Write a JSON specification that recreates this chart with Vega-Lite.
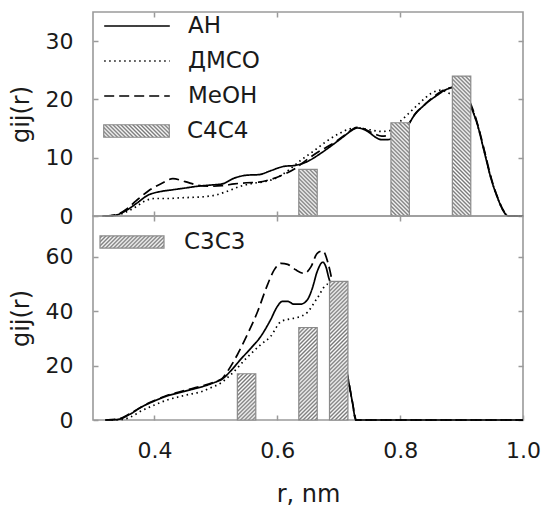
{
"$schema": "https://vega.github.io/schema/vega-lite/v6.json",
"padding": {"left": 8, "top": 10, "right": 5, "bottom": 2},
"params": [{"name": "hs", "value": [{"offset":0,"color":"#fff"},{"offset":0.01,"color":"#777"},{"offset":0.02,"color":"#fff"},{"offset":0.03,"color":"#777"},{"offset":0.04,"color":"#fff"},{"offset":0.05,"color":"#777"},{"offset":0.06,"color":"#fff"},{"offset":0.07,"color":"#777"},{"offset":0.08,"color":"#fff"},{"offset":0.09,"color":"#777"},{"offset":0.1,"color":"#fff"},{"offset":0.11,"color":"#777"},{"offset":0.12,"color":"#fff"},{"offset":0.13,"color":"#777"},{"offset":0.14,"color":"#fff"},{"offset":0.15,"color":"#777"},{"offset":0.16,"color":"#fff"},{"offset":0.17,"color":"#777"},{"offset":0.18,"color":"#fff"},{"offset":0.19,"color":"#777"},{"offset":0.2,"color":"#fff"},{"offset":0.21,"color":"#777"},{"offset":0.22,"color":"#fff"},{"offset":0.23,"color":"#777"},{"offset":0.24,"color":"#fff"},{"offset":0.25,"color":"#777"},{"offset":0.26,"color":"#fff"},{"offset":0.27,"color":"#777"},{"offset":0.28,"color":"#fff"},{"offset":0.29,"color":"#777"},{"offset":0.3,"color":"#fff"},{"offset":0.31,"color":"#777"},{"offset":0.32,"color":"#fff"},{"offset":0.33,"color":"#777"},{"offset":0.34,"color":"#fff"},{"offset":0.35,"color":"#777"},{"offset":0.36,"color":"#fff"},{"offset":0.37,"color":"#777"},{"offset":0.38,"color":"#fff"},{"offset":0.39,"color":"#777"},{"offset":0.4,"color":"#fff"},{"offset":0.41,"color":"#777"},{"offset":0.42,"color":"#fff"},{"offset":0.43,"color":"#777"},{"offset":0.44,"color":"#fff"},{"offset":0.45,"color":"#777"},{"offset":0.46,"color":"#fff"},{"offset":0.47,"color":"#777"},{"offset":0.48,"color":"#fff"},{"offset":0.49,"color":"#777"},{"offset":0.5,"color":"#fff"},{"offset":0.51,"color":"#777"},{"offset":0.52,"color":"#fff"},{"offset":0.53,"color":"#777"},{"offset":0.54,"color":"#fff"},{"offset":0.55,"color":"#777"},{"offset":0.56,"color":"#fff"},{"offset":0.57,"color":"#777"},{"offset":0.58,"color":"#fff"},{"offset":0.59,"color":"#777"},{"offset":0.6,"color":"#fff"},{"offset":0.61,"color":"#777"},{"offset":0.62,"color":"#fff"},{"offset":0.63,"color":"#777"},{"offset":0.64,"color":"#fff"},{"offset":0.65,"color":"#777"},{"offset":0.66,"color":"#fff"},{"offset":0.67,"color":"#777"},{"offset":0.68,"color":"#fff"},{"offset":0.69,"color":"#777"},{"offset":0.7,"color":"#fff"},{"offset":0.71,"color":"#777"},{"offset":0.72,"color":"#fff"},{"offset":0.73,"color":"#777"},{"offset":0.74,"color":"#fff"},{"offset":0.75,"color":"#777"},{"offset":0.76,"color":"#fff"},{"offset":0.77,"color":"#777"},{"offset":0.78,"color":"#fff"},{"offset":0.79,"color":"#777"},{"offset":0.8,"color":"#fff"},{"offset":0.81,"color":"#777"},{"offset":0.82,"color":"#fff"},{"offset":0.83,"color":"#777"},{"offset":0.84,"color":"#fff"},{"offset":0.85,"color":"#777"},{"offset":0.86,"color":"#fff"},{"offset":0.87,"color":"#777"},{"offset":0.88,"color":"#fff"},{"offset":0.89,"color":"#777"},{"offset":0.9,"color":"#fff"},{"offset":0.91,"color":"#777"},{"offset":0.92,"color":"#fff"},{"offset":0.93,"color":"#777"},{"offset":0.94,"color":"#fff"},{"offset":0.95,"color":"#777"},{"offset":0.96,"color":"#fff"},{"offset":0.97,"color":"#777"},{"offset":0.98,"color":"#fff"},{"offset":0.99,"color":"#777"},{"offset":1,"color":"#fff"}]}],
"datasets": {
"c4": [
{"r":0.315,"g":0,"s":"АН"},{"r":0.335,"g":0.1,"s":"АН"},{"r":0.35,"g":0.7,"s":"АН"},{"r":0.37,"g":2.1,"s":"АН"},{"r":0.39,"g":3.6,"s":"АН"},{"r":0.41,"g":4.2,"s":"АН"},{"r":0.43,"g":4.5,"s":"АН"},{"r":0.45,"g":4.8,"s":"АН"},{"r":0.47,"g":5.1,"s":"АН"},{"r":0.49,"g":5.3,"s":"АН"},{"r":0.51,"g":5.5,"s":"АН"},{"r":0.53,"g":6.5,"s":"АН"},{"r":0.55,"g":7.0,"s":"АН"},{"r":0.57,"g":7.1,"s":"АН"},{"r":0.59,"g":7.8,"s":"АН"},{"r":0.61,"g":8.5,"s":"АН"},{"r":0.63,"g":8.7,"s":"АН"},{"r":0.65,"g":9.4,"s":"АН"},{"r":0.67,"g":10.7,"s":"АН"},{"r":0.69,"g":12.2,"s":"АН"},{"r":0.71,"g":13.8,"s":"АН"},{"r":0.72,"g":14.6,"s":"АН"},{"r":0.73,"g":15.1,"s":"АН"},{"r":0.74,"g":14.9,"s":"АН"},{"r":0.75,"g":14.3,"s":"АН"},{"r":0.76,"g":13.5,"s":"АН"},{"r":0.77,"g":13.1,"s":"АН"},{"r":0.78,"g":13.1,"s":"АН"},{"r":0.79,"g":13.6,"s":"АН"},{"r":0.8,"g":14.6,"s":"АН"},{"r":0.815,"g":15.9,"s":"АН"},{"r":0.82,"g":16.8,"s":"АН"},{"r":0.84,"g":19.1,"s":"АН"},{"r":0.86,"g":20.7,"s":"АН"},{"r":0.875,"g":21.7,"s":"АН"},{"r":0.89,"g":22.1,"s":"АН"},{"r":0.905,"g":21.2,"s":"АН"},{"r":0.915,"g":18.8,"s":"АН"},{"r":0.926,"g":15.6,"s":"АН"},{"r":0.937,"g":11.0,"s":"АН"},{"r":0.948,"g":6.4,"s":"АН"},{"r":0.959,"g":3.0,"s":"АН"},{"r":0.969,"g":0.7,"s":"АН"},{"r":0.976,"g":0,"s":"АН"},{"r":1.0,"g":0,"s":"АН"},
{"r":0.33,"g":0,"s":"ДМСО"},{"r":0.35,"g":0.5,"s":"ДМСО"},{"r":0.37,"g":1.6,"s":"ДМСО"},{"r":0.385,"g":2.6,"s":"ДМСО"},{"r":0.4,"g":3.0,"s":"ДМСО"},{"r":0.42,"g":3.0,"s":"ДМСО"},{"r":0.44,"g":3.1,"s":"ДМСО"},{"r":0.46,"g":3.2,"s":"ДМСО"},{"r":0.48,"g":3.3,"s":"ДМСО"},{"r":0.5,"g":3.6,"s":"ДМСО"},{"r":0.52,"g":4.3,"s":"ДМСО"},{"r":0.54,"g":5.1,"s":"ДМСО"},{"r":0.56,"g":5.6,"s":"ДМСО"},{"r":0.58,"g":5.9,"s":"ДМСО"},{"r":0.6,"g":6.6,"s":"ДМСО"},{"r":0.62,"g":8.0,"s":"ДМСО"},{"r":0.64,"g":9.7,"s":"ДМСО"},{"r":0.66,"g":11.2,"s":"ДМСО"},{"r":0.68,"g":12.8,"s":"ДМСО"},{"r":0.7,"g":14.1,"s":"ДМСО"},{"r":0.72,"g":15.0,"s":"ДМСО"},{"r":0.73,"g":15.1,"s":"ДМСО"},{"r":0.75,"g":14.8,"s":"ДМСО"},{"r":0.77,"g":14.5,"s":"ДМСО"},{"r":0.785,"g":14.7,"s":"ДМСО"},{"r":0.8,"g":16.2,"s":"ДМСО"},{"r":0.817,"g":17.9,"s":"ДМСО"},{"r":0.834,"g":19.6,"s":"ДМСО"},{"r":0.85,"g":21.0,"s":"ДМСО"},{"r":0.866,"g":21.6,"s":"ДМСО"},{"r":0.883,"g":20.9,"s":"ДМСО"},{"r":0.9,"g":20.5,"s":"ДМСО"},{"r":0.915,"g":18.9,"s":"ДМСО"},{"r":0.926,"g":15.6,"s":"ДМСО"},{"r":0.937,"g":11.1,"s":"ДМСО"},{"r":0.948,"g":6.5,"s":"ДМСО"},{"r":0.959,"g":3.0,"s":"ДМСО"},{"r":0.969,"g":0.7,"s":"ДМСО"},{"r":0.976,"g":0,"s":"ДМСО"},{"r":1.0,"g":0,"s":"ДМСО"},
{"r":0.32,"g":0,"s":"МеОН"},{"r":0.34,"g":0.3,"s":"МеОН"},{"r":0.355,"g":1.2,"s":"МеОН"},{"r":0.37,"g":2.6,"s":"МеОН"},{"r":0.39,"g":4.3,"s":"МеОН"},{"r":0.41,"g":5.5,"s":"МеОН"},{"r":0.43,"g":6.4,"s":"МеОН"},{"r":0.45,"g":5.9,"s":"МеОН"},{"r":0.47,"g":5.3,"s":"МеОН"},{"r":0.49,"g":5.1,"s":"МеОН"},{"r":0.51,"g":5.2,"s":"МеОН"},{"r":0.53,"g":5.5,"s":"МеОН"},{"r":0.55,"g":5.7,"s":"МеОН"},{"r":0.57,"g":5.8,"s":"МеОН"},{"r":0.59,"g":6.3,"s":"МеОН"},{"r":0.61,"g":7.1,"s":"МеОН"},{"r":0.63,"g":8.2,"s":"МеОН"},{"r":0.65,"g":9.8,"s":"МеОН"},{"r":0.67,"g":11.2,"s":"МеОН"},{"r":0.69,"g":12.4,"s":"МеОН"},{"r":0.71,"g":13.9,"s":"МеОН"},{"r":0.73,"g":15.2,"s":"МеОН"},{"r":0.74,"g":15.0,"s":"МеОН"},{"r":0.75,"g":14.5,"s":"МеОН"},{"r":0.76,"g":14.0,"s":"МеОН"},{"r":0.77,"g":13.7,"s":"МеОН"},{"r":0.78,"g":13.8,"s":"МеОН"},{"r":0.79,"g":14.4,"s":"МеОН"},{"r":0.8,"g":15.2,"s":"МеОН"},{"r":0.815,"g":16.0,"s":"МеОН"},{"r":0.82,"g":16.9,"s":"МеОН"},{"r":0.84,"g":19.1,"s":"МеОН"},{"r":0.86,"g":20.9,"s":"МеОН"},{"r":0.875,"g":21.8,"s":"МеОН"},{"r":0.89,"g":22.1,"s":"МеОН"},{"r":0.905,"g":21.3,"s":"МеОН"},{"r":0.915,"g":19.2,"s":"МеОН"},{"r":0.926,"g":15.8,"s":"МеОН"},{"r":0.937,"g":11.3,"s":"МеОН"},{"r":0.948,"g":6.6,"s":"МеОН"},{"r":0.959,"g":3.1,"s":"МеОН"},{"r":0.969,"g":0.8,"s":"МеОН"},{"r":0.977,"g":0,"s":"МеОН"},{"r":1.0,"g":0,"s":"МеОН"}
],
"c3": [
{"r":0.32,"g":0,"s":"АН"},{"r":0.34,"g":0.2,"s":"АН"},{"r":0.36,"g":2.1,"s":"АН"},{"r":0.38,"g":4.9,"s":"АН"},{"r":0.4,"g":7.0,"s":"АН"},{"r":0.42,"g":8.8,"s":"АН"},{"r":0.44,"g":10.0,"s":"АН"},{"r":0.46,"g":11.2,"s":"АН"},{"r":0.48,"g":12.4,"s":"АН"},{"r":0.5,"g":14.0,"s":"АН"},{"r":0.51,"g":15.0,"s":"АН"},{"r":0.524,"g":18.0,"s":"АН"},{"r":0.54,"g":22.2,"s":"АН"},{"r":0.557,"g":26.4,"s":"АН"},{"r":0.573,"g":30.7,"s":"АН"},{"r":0.589,"g":36.8,"s":"АН"},{"r":0.6,"g":41.7,"s":"АН"},{"r":0.608,"g":43.6,"s":"АН"},{"r":0.617,"g":43.6,"s":"АН"},{"r":0.627,"g":42.6,"s":"АН"},{"r":0.638,"g":42.6,"s":"АН"},{"r":0.649,"g":44.2,"s":"АН"},{"r":0.657,"g":48.4,"s":"АН"},{"r":0.665,"g":54.6,"s":"АН"},{"r":0.674,"g":58.0,"s":"АН"},{"r":0.679,"g":56.4,"s":"АН"},{"r":0.684,"g":52.1,"s":"АН"},{"r":0.69,"g":48,"s":"АН"},{"r":0.7,"g":32,"s":"АН"},{"r":0.716,"g":14.2,"s":"АН"},{"r":0.722,"g":6.9,"s":"АН"},{"r":0.728,"g":0,"s":"АН"},{"r":1.0,"g":0,"s":"АН"},
{"r":0.33,"g":0,"s":"ДМСО"},{"r":0.35,"g":0.3,"s":"ДМСО"},{"r":0.36,"g":1.0,"s":"ДМСО"},{"r":0.38,"g":3.5,"s":"ДМСО"},{"r":0.4,"g":5.5,"s":"ДМСО"},{"r":0.42,"g":7.3,"s":"ДМСО"},{"r":0.443,"g":8.7,"s":"ДМСО"},{"r":0.46,"g":9.6,"s":"ДМСО"},{"r":0.475,"g":10.3,"s":"ДМСО"},{"r":0.49,"g":11.7,"s":"ДМСО"},{"r":0.508,"g":13.6,"s":"ДМСО"},{"r":0.525,"g":16.8,"s":"ДМСО"},{"r":0.55,"g":22.8,"s":"ДМСО"},{"r":0.573,"g":27.7,"s":"ДМСО"},{"r":0.589,"g":30.7,"s":"ДМСО"},{"r":0.606,"g":36.2,"s":"ДМСО"},{"r":0.622,"g":37.2,"s":"ДМСО"},{"r":0.633,"g":37.7,"s":"ДМСО"},{"r":0.649,"g":39.6,"s":"ДМСО"},{"r":0.665,"g":44.8,"s":"ДМСО"},{"r":0.682,"g":49.9,"s":"ДМСО"},{"r":0.69,"g":46,"s":"ДМСО"},{"r":0.7,"g":32,"s":"ДМСО"},{"r":0.716,"g":13.8,"s":"ДМСО"},{"r":0.722,"g":6.8,"s":"ДМСО"},{"r":0.728,"g":0,"s":"ДМСО"},{"r":1.0,"g":0,"s":"ДМСО"},
{"r":0.32,"g":0,"s":"МеОН"},{"r":0.34,"g":0.3,"s":"МеОН"},{"r":0.36,"g":2.3,"s":"МеОН"},{"r":0.38,"g":5.0,"s":"МеОН"},{"r":0.4,"g":7.2,"s":"МеОН"},{"r":0.42,"g":9.0,"s":"МеОН"},{"r":0.44,"g":10.3,"s":"МеОН"},{"r":0.46,"g":11.5,"s":"МеОН"},{"r":0.48,"g":12.7,"s":"МеОН"},{"r":0.5,"g":14.2,"s":"МеОН"},{"r":0.51,"g":15.2,"s":"МеОН"},{"r":0.519,"g":17.9,"s":"МеОН"},{"r":0.535,"g":24.0,"s":"МеОН"},{"r":0.551,"g":31.3,"s":"МеОН"},{"r":0.568,"g":39.9,"s":"МеОН"},{"r":0.584,"g":49.7,"s":"МеОН"},{"r":0.595,"g":55.2,"s":"МеОН"},{"r":0.606,"g":57.6,"s":"МеОН"},{"r":0.617,"g":57.2,"s":"МеОН"},{"r":0.63,"g":55.2,"s":"МеОН"},{"r":0.644,"g":53.9,"s":"МеОН"},{"r":0.655,"g":56.4,"s":"МеОН"},{"r":0.665,"g":61.3,"s":"МеОН"},{"r":0.674,"g":62.2,"s":"МеОН"},{"r":0.682,"g":58.2,"s":"МеОН"},{"r":0.69,"g":50,"s":"МеОН"},{"r":0.7,"g":33,"s":"МеОН"},{"r":0.716,"g":14.5,"s":"МеОН"},{"r":0.722,"g":7,"s":"МеОН"},{"r":0.729,"g":0,"s":"МеОН"},{"r":1.0,"g":0,"s":"МеОН"}
],
"b4": [{"r0":0.635,"r1":0.665,"g":8,"series":"C4C4"},{"r0":0.785,"r1":0.815,"g":16,"series":"C4C4"},{"r0":0.885,"r1":0.915,"g":24,"series":"C4C4"}],
"b3": [{"r0":0.535,"r1":0.565,"g":17,"series":"C3C3"},{"r0":0.635,"r1":0.665,"g":34,"series":"C3C3"},{"r0":0.685,"r1":0.715,"g":51,"series":"C3C3"}]
},
"vconcat": [
{
"width": 430, "height": 204,
"layer": [
{
"data": {"name": "c4"},
"mark": {"type": "line", "color": "black", "strokeWidth": 1.7, "interpolate": "monotone"},
"encoding": {
"x": {"field": "r", "type": "quantitative", "scale": {"domain": [0.3, 1.0], "nice": false, "zero": false}, "axis": {"orient": "bottom", "values": [0.4, 0.6, 0.8], "labels": false, "title": null}},
"y": {"field": "g", "type": "quantitative", "scale": {"domain": [0, 35], "nice": false}, "axis": {"orient": "left", "values": [0, 10, 20, 30], "title": "gij(r)", "titlePadding": 12}},
"strokeDash": {"field": "s", "type": "nominal", "scale": {"domain": ["АН", "ДМСО", "МеОН"], "range": [[1, 0], [1.5, 3.5], [10, 5]]}, "legend": {"title": null, "orient": "none", "legendX": 10, "legendY": 1, "symbolType": "stroke", "symbolSize": 4303, "symbolStrokeWidth": 1.7, "symbolStrokeColor": "black", "labelOffset": 17, "rowPadding": 9, "clipHeight": 26}}
}
},
{
"data": {"name": "b4"},
"mark": {"type": "rect", "strokeWidth": 1.2, "fill": {"expr": "datum.g == 8 ? {gradient:'linear',x1:0,y1:1,x2:1.452,y2:-2.677,stops:hs} : datum.g == 16 ? {gradient:'linear',x1:0,y1:1,x2:0.405,y2:-1.049,stops:hs} : datum.g == 24 ? {gradient:'linear',x1:0,y1:1,x2:0.184,y2:-0.395,stops:hs} : {gradient:'linear',x1:0,y1:1,x2:2.913,y2:0.445,stops:hs}"}},
"encoding": {
"x": {"field": "r0", "type": "quantitative", "axis": {"orient": "top", "values": [0.4, 0.6, 0.8], "labels": false, "title": null}},
"x2": {"field": "r1"},
"y": {"field": "g", "type": "quantitative", "axis": {"orient": "right", "values": [0, 10, 20, 30], "labels": false, "title": null}},
"y2": {"datum": 0},
"stroke": {"field": "series", "type": "nominal", "scale": {"range": ["#8a8a8a"]}, "legend": {"title": null, "orient": "none", "legendX": 10, "legendY": 106, "symbolType": "M-1,-0.19H1V0.19H-1Z", "symbolSize": 4303, "symbolStrokeWidth": 1.2, "labelOffset": 17, "clipHeight": 26}}
}
}
],
"resolve": {"axis": {"x": "independent", "y": "independent"}}
},
{
"width": 430, "height": 204,
"layer": [
{
"data": {"name": "c3"},
"mark": {"type": "line", "color": "black", "strokeWidth": 1.7, "interpolate": "monotone"},
"encoding": {
"x": {"field": "r", "type": "quantitative", "scale": {"domain": [0.3, 1.0], "nice": false, "zero": false}, "axis": {"orient": "bottom", "values": [0.4, 0.6, 0.8, 1.0], "format": ".1f", "title": "r, nm", "titlePadding": 21}},
"y": {"field": "g", "type": "quantitative", "scale": {"domain": [0, 75], "nice": false}, "axis": {"orient": "left", "values": [0, 20, 40, 60], "title": "gij(r)", "titlePadding": 12}},
"strokeDash": {"field": "s", "type": "nominal", "scale": {"domain": ["АН", "ДМСО", "МеОН"], "range": [[1, 0], [1.5, 3.5], [10, 5]]}, "legend": null}
}
},
{
"data": {"name": "b3"},
"mark": {"type": "rect", "strokeWidth": 1.2, "fill": {"expr": "datum.g == 17 ? {gradient:'linear',x1:0,y1:0,x2:1.468,y2:3.693,stops:hs} : datum.g == 34 ? {gradient:'linear',x1:0,y1:0,x2:0.408,y2:2.055,stops:hs} : datum.g == 51 ? {gradient:'linear',x1:0,y1:0,x2:0.185,y2:1.4,stops:hs} : {gradient:'linear',x1:0,y1:0,x2:2.986,y2:0.567,stops:hs}"}},
"encoding": {
"x": {"field": "r0", "type": "quantitative", "axis": {"orient": "top", "values": [0.4, 0.6, 0.8], "labels": false, "title": null}},
"x2": {"field": "r1"},
"y": {"field": "g", "type": "quantitative", "axis": {"orient": "right", "values": [0, 20, 40, 60], "labels": false, "title": null}},
"y2": {"datum": 0},
"stroke": {"field": "series", "type": "nominal", "scale": {"range": ["#8a8a8a"]}, "legend": {"title": null, "orient": "none", "legendX": 6, "legendY": 13, "symbolType": "M-1,-0.19H1V0.19H-1Z", "symbolSize": 4096, "symbolStrokeWidth": 1.2, "labelOffset": 19, "clipHeight": 26}}
}
}
],
"resolve": {"axis": {"x": "independent", "y": "independent"}}
}
],
"spacing": 0,
"bounds": "flush",
"resolve": {"scale": {"x": "independent", "y": "independent", "strokeDash": "independent", "stroke": "independent"}, "legend": {"strokeDash": "independent", "stroke": "independent"}},
"config": {
"font": "DejaVu Sans",
"view": {"stroke": "#9a9a9a", "strokeWidth": 1.6},
"axis": {"domain": false, "grid": false, "tickColor": "#9a9a9a", "tickWidth": 1.5, "tickSize": -5, "labelPadding": 25, "labelFont": "DejaVu Sans", "labelFontSize": 22, "labelColor": "#1a1a1a", "titleFont": "DejaVu Sans", "titleFontSize": 24, "titleFontWeight": "normal", "titleColor": "#1a1a1a", "labelFlush": false, "minExtent": 0},
"legend": {"labelFont": "DejaVu Sans", "labelFontSize": 23, "labelColor": "#1a1a1a", "padding": 0, "rowPadding": 9, "symbolOffset": 0, "labelLimit": 300}
}
}
